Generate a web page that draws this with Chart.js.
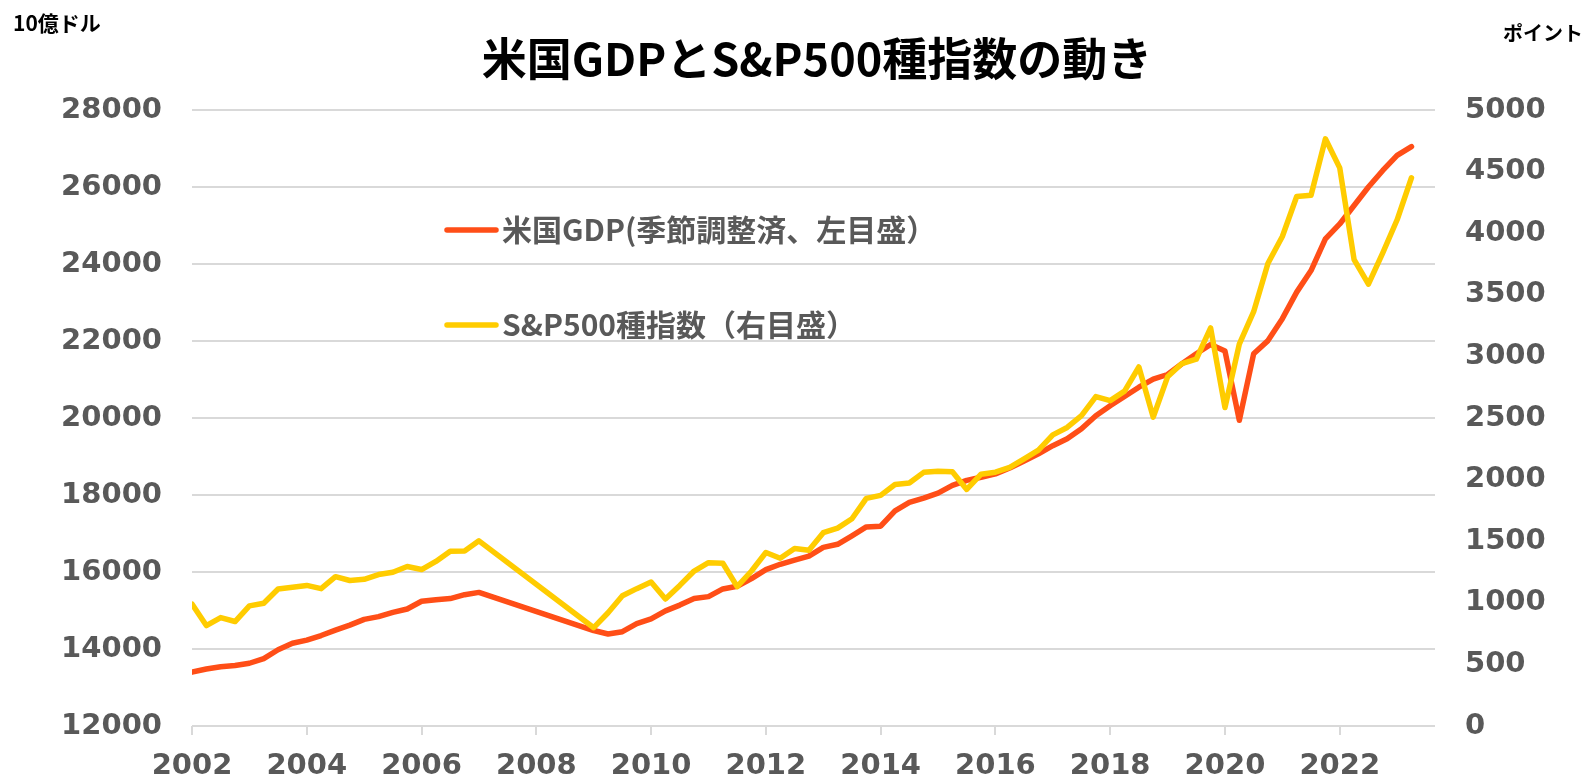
<!DOCTYPE html>
<html lang="ja">
<head>
<meta charset="utf-8">
<title>米国GDPとS&amp;P500種指数の動き</title>
<script src="https://cdn.jsdelivr.net/npm/chart.js@4.4.0/dist/chart.umd.min.js"></script>
<style>
  html, body { margin: 0; padding: 0; background: #fff; }
  #wrap { width: 1589px; height: 779px; }
</style>
</head>
<body>
<div id="wrap"><canvas id="chart" width="1589" height="779"></canvas></div>
<script>
// quarter positions (year + fraction); 2007Q2-2008Q4 absent in source
const quarters = [
  2002, 2002.25, 2002.5, 2002.75, 2003, 2003.25, 2003.5, 2003.75,
  2004, 2004.25, 2004.5, 2004.75, 2005, 2005.25, 2005.5, 2005.75,
  2006, 2006.25, 2006.5, 2006.75, 2007,
  2009, 2009.25, 2009.5, 2009.75, 2010, 2010.25, 2010.5, 2010.75,
  2011, 2011.25, 2011.5, 2011.75, 2012, 2012.25, 2012.5, 2012.75,
  2013, 2013.25, 2013.5, 2013.75, 2014, 2014.25, 2014.5, 2014.75,
  2015, 2015.25, 2015.5, 2015.75, 2016, 2016.25, 2016.5, 2016.75,
  2017, 2017.25, 2017.5, 2017.75, 2018, 2018.25, 2018.5, 2018.75,
  2019, 2019.25, 2019.5, 2019.75, 2020, 2020.25, 2020.5, 2020.75,
  2021, 2021.25, 2021.5, 2021.75, 2022, 2022.25, 2022.5, 2022.75,
  2023, 2023.25
];

// 米国GDP 10億ドル (left axis)
const gdp = [
  13400, 13480, 13540, 13570, 13630, 13750, 13980, 14150,
  14230, 14350, 14490, 14620, 14770, 14840, 14950, 15040,
  15240, 15280, 15310, 15410, 15470,
  14480, 14390, 14450, 14660, 14780, 14990, 15140, 15310,
  15360, 15560, 15630, 15830, 16060, 16200, 16310, 16410,
  16640, 16720, 16940, 17170, 17190, 17590, 17810, 17920,
  18050, 18250, 18380, 18460, 18550, 18700, 18880, 19070,
  19280, 19460, 19720, 20060, 20320, 20560, 20800, 21010,
  21130, 21410, 21670, 21910, 21740, 19940, 21670, 22010,
  22580, 23270, 23830, 24650, 25040, 25520, 26000, 26430,
  26820, 27050
];

// S&P500 ポイント (right axis)
const sp500 = [
  990, 815, 880, 848, 975, 996, 1112, 1126,
  1141, 1115, 1212, 1181, 1191, 1229, 1248, 1295,
  1270, 1336, 1418, 1421, 1503,
  798, 919, 1057, 1115, 1169, 1031, 1141, 1258,
  1326, 1321, 1131, 1258, 1408, 1362, 1441, 1426,
  1569, 1606, 1682, 1848, 1872, 1960, 1972, 2059,
  2068, 2063, 1920, 2044, 2060, 2099, 2168, 2239,
  2363, 2423, 2519, 2674, 2641, 2718, 2914, 2507,
  2834, 2942, 2977, 3231, 2585, 3100, 3363, 3756,
  3973, 4298, 4308, 4766, 4530, 3785, 3586, 3840,
  4109, 4450
];

const yearTicks = [2002, 2004, 2006, 2008, 2010, 2012, 2014, 2016, 2018, 2020, 2022];
const leftTicks = [12000, 14000, 16000, 18000, 20000, 22000, 24000, 26000, 28000];
const rightTicks = [0, 500, 1000, 1500, 2000, 2500, 3000, 3500, 4000, 4500, 5000];

const titleText = '米国GDPとS&P500種指数の動き';
const leftUnit = '10億ドル';
const rightUnit = 'ポイント';
const gdpLabel = '米国GDP(季節調整済、左目盛）';
const spLabel = 'S&P500種指数（右目盛）';

const gdpColor = '#FF4E17';
const spColor = '#FFCC00';
const tickColor = '#595959';
const gridColor = '#D9D9D9';
const tickFont = { family: '"DejaVu Sans", "Noto Sans CJK JP"', size: 29, weight: 'bold' };
const plain = (v) => String(v);

const textPlugin = {
  id: 'texts',
  afterDraw(chart) {
    const ctx = chart.ctx;
    const a = chart.chartArea;
    ctx.save();
    ctx.textBaseline = 'middle';

    ctx.fillStyle = '#000';
    ctx.font = 'bold 45px "Noto Sans CJK JP"';
    ctx.textAlign = 'center';
    ctx.fillText(titleText, 817, 59);

    ctx.font = 'bold 21px "Noto Sans CJK JP"';
    ctx.textAlign = 'left';
    ctx.fillText(leftUnit, 13, 23);
    ctx.font = 'bold 20px "Noto Sans CJK JP"';
    ctx.textAlign = 'right';
    ctx.fillText(rightUnit, 1583, 33);

    // legend inside plot
    const items = [[gdpLabel, gdpColor, a.top + 120], [spLabel, spColor, a.top + 215]];
    ctx.font = 'bold 30px "Noto Sans CJK JP"';
    ctx.textAlign = 'left';
    ctx.lineCap = 'round';
    ctx.lineWidth = 5.5;
    for (const [txt, col, y] of items) {
      ctx.strokeStyle = col;
      ctx.beginPath();
      ctx.moveTo(a.left + 255, y);
      ctx.lineTo(a.left + 304, y);
      ctx.stroke();
      ctx.fillStyle = tickColor;
      ctx.fillText(txt, a.left + 310, y);
    }
    ctx.restore();
  }
};

new Chart(document.getElementById('chart'), {
  type: 'line',
  data: {
    datasets: [
      {
        label: gdpLabel,
        data: quarters.map((q, i) => ({ x: q, y: gdp[i] })),
        borderColor: gdpColor,
        borderWidth: 5.5,
        pointRadius: 0,
        borderJoinStyle: 'round',
        borderCapStyle: 'round',
        yAxisID: 'y',
        order: 2
      },
      {
        label: spLabel,
        data: quarters.map((q, i) => ({ x: q, y: sp500[i] })),
        borderColor: spColor,
        borderWidth: 5.5,
        pointRadius: 0,
        borderJoinStyle: 'round',
        borderCapStyle: 'round',
        yAxisID: 'y2',
        order: 1
      }
    ]
  },
  options: {
    responsive: false,
    animation: false,
    devicePixelRatio: 1,
    layout: { padding: { top: 110, right: 0, left: 0, bottom: 0 } },
    plugins: { legend: { display: false }, title: { display: false }, tooltip: { enabled: false } },
    scales: {
      x: {
        type: 'linear',
        min: 2002,
        max: 2023.66,
        afterBuildTicks: (s) => { s.ticks = yearTicks.map(v => ({ value: v })); },
        afterFit: (s) => { s.height = 53; },
        grid: { drawOnChartArea: false, color: gridColor, lineWidth: 2, tickLength: 9 },
        border: { display: false },
        ticks: { color: tickColor, font: tickFont, padding: 14, maxRotation: 0, autoSkip: false, callback: plain }
      },
      y: {
        position: 'left',
        min: 12000,
        max: 28000,
        afterBuildTicks: (s) => { s.ticks = leftTicks.map(v => ({ value: v })); },
        afterFit: (s) => { s.width = 192; },
        grid: { color: gridColor, lineWidth: 2, drawTicks: false },
        border: { display: false },
        ticks: { color: tickColor, font: tickFont, padding: 30, callback: plain }
      },
      y2: {
        position: 'right',
        min: 0,
        max: 5000,
        afterBuildTicks: (s) => { s.ticks = rightTicks.map(v => ({ value: v })); },
        afterFit: (s) => { s.width = 154; },
        grid: { drawOnChartArea: false, drawTicks: false },
        border: { display: false },
        ticks: { color: tickColor, font: tickFont, padding: 30, callback: plain }
      }
    }
  },
  plugins: [textPlugin]
});
</script>
</body>
</html>
